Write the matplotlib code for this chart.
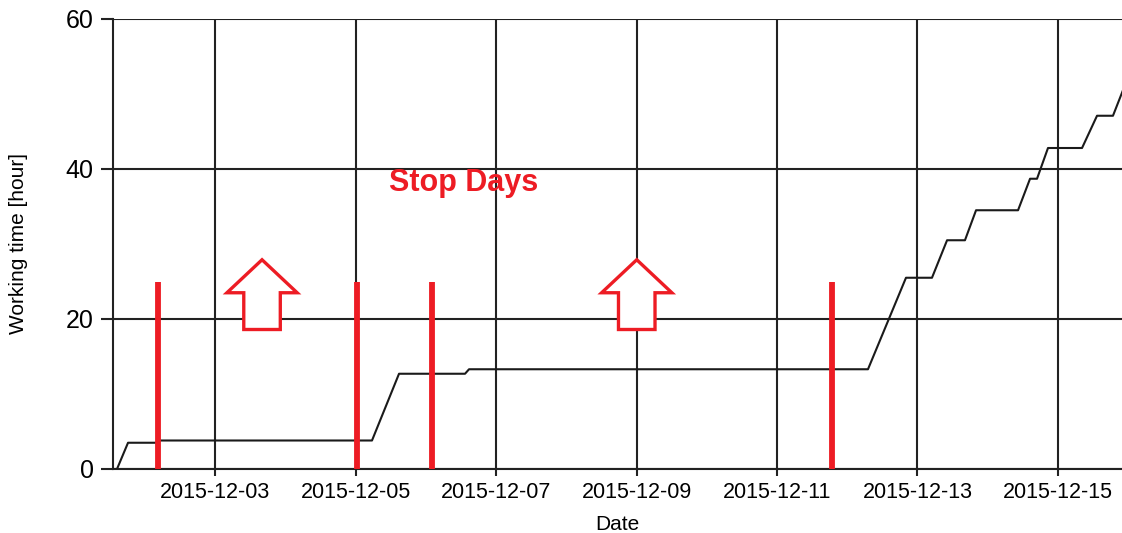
"""Working time vs. date, with the stop days marked in red."""
import matplotlib

matplotlib.use("Agg")
import matplotlib.dates as mdates  # noqa: E402
import matplotlib.pyplot as plt  # noqa: E402
import numpy as np  # noqa: E402
import pandas as pd  # noqa: E402
from matplotlib.patches import Polygon  # noqa: E402

plt.rcParams["font.family"] = ["Liberation Sans", "DejaVu Sans"]

# cumulative working time (hours)
times = ["2015-12-01 13:09", "2015-12-01 14:31", "2015-12-01 18:17", "2015-12-02 04:11",
         "2015-12-02 04:52", "2015-12-05 05:38", "2015-12-05 14:52", "2015-12-06 13:25",
         "2015-12-06 14:47", "2015-12-12 07:05", "2015-12-12 20:04", "2015-12-13 04:57",
         "2015-12-13 10:06", "2015-12-13 16:13", "2015-12-13 20:00", "2015-12-14 10:21",
         "2015-12-14 14:27", "2015-12-14 16:50", "2015-12-14 20:35", "2015-12-15 08:13",
         "2015-12-15 13:20", "2015-12-15 18:47", "2015-12-15 22:54"]
hours = [0.0, 0.0, 3.5, 3.5,
         3.8, 3.8, 12.7, 12.7,
         13.3, 13.3, 25.5, 25.5,
         30.5, 30.5, 34.5, 34.5,
         38.7, 38.7, 42.8, 42.8,
         47.1, 47.1, 51.2]

# hand-drawn red markers around the stop days
marker_times = ["2015-12-02 04:32", "2015-12-05 00:30", "2015-12-06 02:08", "2015-12-11 18:47"]
marker_top = 25.0
arrow_times = ["2015-12-03 16:04", "2015-12-09 00:05"]

RED = "#ed1c24"
x_lo, x_hi = pd.Timestamp("2015-12-01 13:09"), pd.Timestamp("2015-12-15 21:52")

fig = plt.figure(figsize=(11.22, 5.33), dpi=100)
ax = fig.add_axes([113 / 1122, 64 / 533, 1 - 113 / 1122, 450 / 533])

t = pd.to_datetime(times)
ax.plot(t, hours, color="#1a1a1a", lw=1.5, zorder=3)

for mt in pd.to_datetime(marker_times):
    ax.plot([mt, mt], [0, marker_top], color=RED, lw=4.2, solid_capstyle="butt", zorder=4)

# hollow up arrows (width in days, height in hours)
for at in pd.to_datetime(arrow_times):
    c = mdates.date2num(at)
    hw, sw = 0.5, 0.26
    tip, base, bottom = 27.9, 23.5, 18.6
    pts = np.array([[c, tip], [c + hw, base], [c + sw, base], [c + sw, bottom],
                    [c - sw, bottom], [c - sw, base], [c - hw, base]])
    ax.add_patch(Polygon(pts, closed=True, fill=True, facecolor="white",
                         edgecolor=RED, lw=2.4, zorder=4))

ax.text(pd.Timestamp("2015-12-05 11:30"), 38.2, "Stop Days", color=RED,
        fontsize=22, fontweight="bold", va="center", ha="left", zorder=5)

ax.set_xlim(x_lo, x_hi)
ax.set_ylim(0, 60)
ax.set_yticks([0, 20, 40, 60])
ax.xaxis.set_major_locator(mdates.DayLocator(bymonthday=range(1, 32, 2)))
ax.xaxis.set_major_formatter(mdates.DateFormatter("%Y-%m-%d"))
ax.grid(True, color="#222222", lw=1.5)
ax.set_axisbelow(True)

for side in ("top", "right"):
    ax.spines[side].set_visible(False)
for side in ("left", "bottom"):
    ax.spines[side].set_color("#222222")
    ax.spines[side].set_linewidth(1.5)

ax.tick_params(axis="y", length=9, width=1.5, labelsize=18, pad=5, color="#222222")
ax.tick_params(axis="x", length=5, width=1.5, labelsize=15.5, pad=4, color="#222222")
ax.set_xlabel("Date", fontsize=15, labelpad=9)
ax.set_ylabel("Working time [hour]", fontsize=15, labelpad=27)

fig.savefig("out.png", dpi=100)
